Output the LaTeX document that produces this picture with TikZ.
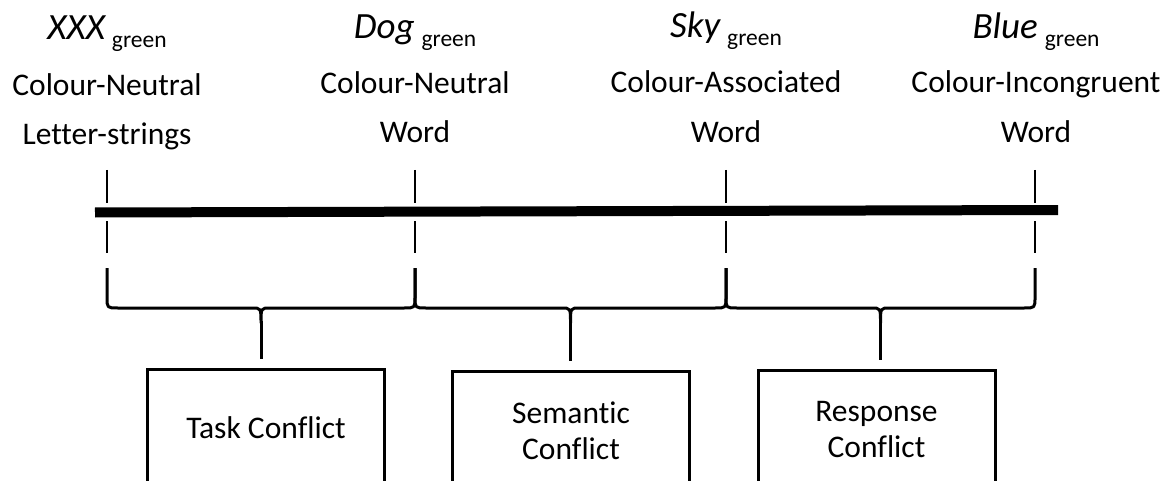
\documentclass[tikz,border=0pt]{standalone}
\usepackage{fontspec}
\setmainfont{Carlito}[Ligatures=CommonOff]
\usetikzlibrary{calc}

% stimulus word in italics followed by its ink colour as a subscript
\newcommand\stimword[1]{{\fontsize{37}{42}\selectfont\itshape #1}\hspace{7pt}\raisebox{-8pt}{\fontsize{23.5}{27}\selectfont green}}

% curly brace spanning two ticks, with its stem pointing down to a box
\newcommand\conflictbrace[3]{%
  \coordinate (mid) at ($(#1)!0.5!(#2)$);
  \draw[bracepen]
    ($(#1)+(0,56)$) -- ($(#1)+(0,85)$)
    .. controls ($(#1)+(0,96)$) .. ($(#1)+(11,96)$)
    -- ($(mid)+(-9,96)$)
    .. controls ($(mid)+(0,96)$) .. ($(mid)+(0,111)$)
    .. controls ($(mid)+(0,96)$) .. ($(mid)+(9,96)$)
    -- ($(#2)+(-11,96)$)
    .. controls ($(#2)+(0,96)$) .. ($(#2)+(0,85)$)
    -- ($(#2)+(0,56)$);
  \draw[bracepen] ($(mid)+(0,109)$) -- ($(mid |- #3.north)+(0,-9)$);
}

\begin{document}
\begin{tikzpicture}[x=1pt,y=-1pt,
  labeltext/.style={anchor=base,inner sep=0pt,font=\fontsize{31.5}{36}\selectfont},
  ticken/.style={line width=2pt},
  axispen/.style={line width=10pt},
  bracepen/.style={line width=3pt,line join=round},
  conflict/.style={draw,line width=3pt,minimum width=237pt,inner sep=0pt,
                   align=center,font=\fontsize{31.5}{36}\selectfont}]

\useasboundingbox (0,0) rectangle (1174,481);
\clip (0,0) rectangle (1174,481);

% the continuum line and its tick positions
\coordinate (axisL) at (95,212.5);
\coordinate (axisR) at (1058,210);
\draw[axispen] (axisL) -- (axisR);

\coordinate (t1) at (107,212);
\coordinate (t2) at (415,212);
\coordinate (t3) at (726,212);
\coordinate (t4) at (1035,212);

\foreach \t in {t1,t2,t3,t4}{
  \draw[ticken] ($(\t)+(0,-42)$) -- ($(\t)+(0,-9)$);
  \draw[ticken] ($(\t)+(0,9)$) -- ($(\t)+(0,41)$);
}

% condition labels above the ticks
\node[labeltext] (w1) at (107,40) {\stimword{XXX}};
\node[labeltext] (n1) at (107,96) {Colour-Neutral};
\node[labeltext] (s1) at (107,145) {Letter-strings};

\node[labeltext] (w2) at (415,39) {\stimword{Dog}};
\node[labeltext] (n2) at (415,94) {Colour-Neutral};
\node[labeltext] (s2) at (415,143) {Word};

\node[labeltext] (w3) at (726,38) {\stimword{Sky}};
\node[labeltext] (n3) at (726,93) {Colour-Associated};
\node[labeltext] (s3) at (726,143) {Word};

\node[labeltext] (w4) at (1036,39) {\stimword{Blue}};
\node[labeltext] (n4) at (1036,93) {Colour-Incongruent};
\node[labeltext] (s4) at (1036,143) {Word};

% conflict boxes
\node[conflict,minimum height=118pt] (c1) at (266,428) {Task Conflict};
\node[conflict,minimum height=120pt] (c2) at (571,431) {Semantic\\Conflict};
\node[conflict,minimum height=120pt] (c3) at (876.5,430) {Response\\Conflict};

% braces grouping neighbouring conditions
\conflictbrace{t1}{t2}{c1}
\conflictbrace{t2}{t3}{c2}
\conflictbrace{t3}{t4}{c3}

\end{tikzpicture}
\end{document}
